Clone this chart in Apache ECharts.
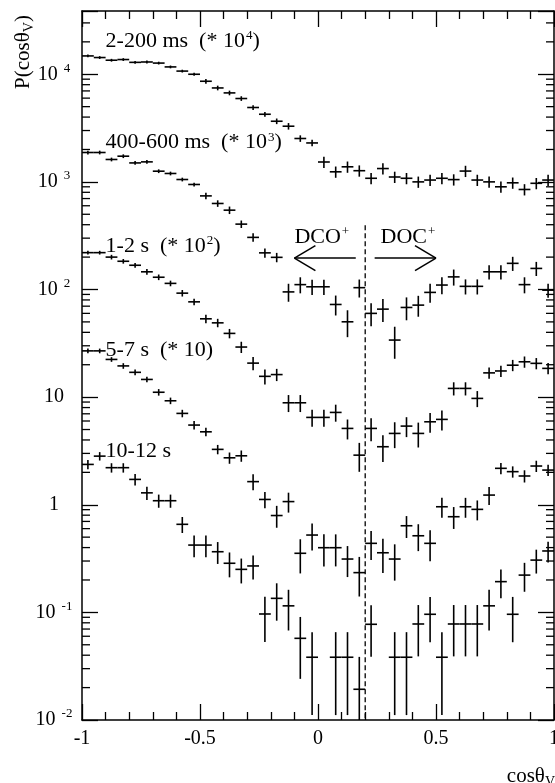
<!DOCTYPE html>
<html>
<head>
<meta charset="utf-8">
<script src="https://cdn.jsdelivr.net/npm/echarts@6/dist/echarts.min.js"></script>
<style>
  html, body { margin: 0; padding: 0; background: #fff; }
  #chart { width: 555px; height: 783px; }
</style>
</head>
<body>
<div id="chart"></div>
<script>
// Bin centres in cos(theta_V), bin width 0.05
const cosBins = [-0.975,-0.925,-0.875,-0.825,-0.775,-0.725,-0.675,-0.625,-0.575,-0.525,
  -0.475,-0.425,-0.375,-0.325,-0.275,-0.225,-0.175,-0.125,-0.075,-0.025,
  0.025,0.075,0.125,0.175,0.225,0.275,0.325,0.375,0.425,0.475,
  0.525,0.575,0.625,0.675,0.725,0.775,0.825,0.875,0.925,0.975];
const binHalfWidth = 0.025;

// P(cos theta_V) per time window (unscaled) and relative errors
const p2to200ms = [1.48,1.43,1.35,1.37,1.29,1.30,1.27,1.17,1.07,1.00,
  0.861,0.746,0.671,0.595,0.491,0.425,0.366,0.329,0.253,0.230,
  0.153,0.124,0.138,0.127,0.108,0.133,0.111,0.108,0.100,0.104,
  0.108,0.105,0.126,0.104,0.100,0.090,0.098,0.085,0.097,0.104];
const rel2to200ms = [0.03,0.03,0.03,0.03,0.03,0.03,0.03,0.03,0.03,0.03,
  0.05,0.05,0.05,0.05,0.05,0.05,0.06,0.07,0.07,0.07,
  0.12,0.12,0.12,0.12,0.12,0.12,0.12,0.12,0.12,0.12,
  0.12,0.12,0.12,0.12,0.12,0.12,0.12,0.12,0.12,0.12];

const p400to600ms = [1.875,1.875,1.615,1.733,1.500,1.534,1.257,1.197,1.052,0.946,
  0.741,0.630,0.546,0.405,0.305,0.219,0.199,0.095,0.111,0.106,
  0.106,0.0726,0.0501,0.104,0.060,0.0657,0.0339,0.0681,0.0716,0.094,
  0.110,0.131,0.107,0.107,0.146,0.146,0.175,0.111,0.157,0.0986];
const rel400to600ms = [0.04,0.04,0.04,0.04,0.04,0.04,0.04,0.04,0.04,0.04,
  0.07,0.07,0.08,0.08,0.09,0.10,0.10,0.19,0.17,0.16,
  0.16,0.21,0.28,0.19,0.24,0.24,0.33,0.24,0.22,0.20,
  0.18,0.17,0.16,0.16,0.15,0.15,0.15,0.17,0.15,0.15];

const p1to2s = [2.20,2.20,2.00,1.83,1.68,1.46,1.30,1.14,0.925,0.768,
  0.534,0.490,0.391,0.292,0.207,0.156,0.162,0.0886,0.0886,0.0648,
  0.0648,0.0721,0.0512,0.0289,0.0512,0.0346,0.0460,0.0538,0.0460,0.0590,
  0.0621,0.1205,0.1205,0.0973,0.168,0.175,0.198,0.213,0.206,0.185];
const rel1to2s = [0.04,0.04,0.05,0.05,0.05,0.06,0.06,0.06,0.07,0.07,
  0.09,0.09,0.10,0.12,0.14,0.16,0.13,0.18,0.18,0.18,
  0.18,0.18,0.21,0.30,0.24,0.28,0.27,0.21,0.26,0.21,
  0.21,0.14,0.14,0.17,0.12,0.12,0.12,0.12,0.12,0.12];

const p5to7s = [2.69,2.69,2.24,1.95,1.70,1.46,1.11,0.925,0.706,0.550,
  0.476,0.327,0.273,0.285,0.164,0.112,0.0794,0.107,0.0354,0.0523,
  0.0399,0.0399,0.0313,0.0234,0.0438,0.0358,0.0313,0.0638,0.0515,0.0438,
  0.0958,0.0774,0.0958,0.0906,0.123,0.218,0.203,0.185,0.229,0.210];
const rel5to7s = [0.05,0.05,0.05,0.06,0.06,0.06,0.07,0.07,0.08,0.09,
  0.09,0.10,0.12,0.12,0.17,0.17,0.23,0.21,0.35,0.28,
  0.33,0.33,0.32,0.40,0.30,0.35,0.37,0.23,0.28,0.32,
  0.21,0.23,0.21,0.21,0.19,0.12,0.12,0.13,0.12,0.12];

const p10to12s = [2.37,2.83,2.21,2.21,1.72,1.29,1.09,1.09,0.658,0.422,
  0.422,0.366,0.286,0.251,0.270,0.0966,0.135,0.115,0.0574,0.0383,
  null,0.0383,0.0383,0.0193,0.0775,null,0.0383,0.0383,0.078,0.096,
  0.0383,0.078,0.078,0.078,0.115,0.193,0.096,0.222,0.306,0.372];
const rel10to12s = [0.10,0.09,0.10,0.10,0.12,0.14,0.14,0.14,0.17,0.23,
  0.23,0.23,0.26,0.26,0.25,0.45,0.38,0.41,0.58,0.71,
  null,0.71,0.71,1.00,0.50,null,0.71,0.71,0.50,0.45,
  0.71,0.50,0.50,0.50,0.41,0.30,0.45,0.30,0.25,0.22];

const windowNames = ['2-200 ms', '400-600 ms', '1-2 s', '5-7 s', '10-12 s'];
const windowScaleExp = [4, 3, 2, 1, 0];
const windowValues = [p2to200ms, p400to600ms, p1to2s, p5to7s, p10to12s];
const windowRelErr = [rel2to200ms, rel400to600ms, rel1to2s, rel5to7s, rel10to12s];

// Axis ranges
const xMin = -1, xMax = 1, xStep = 0.5;
const yMin = 0.01, yMax = 38700;

// Annotation anchors (data space)
const labelAnchorCos = -0.9;
const labelAnchorP = [20370, 2312, 254, 27.3, 3.15];
const splitCos = 0.2;
const splitTopP = 396;
const arrowP = 196;
const arrows = [[0.16, -0.1], [0.24, 0.5]];
const regionLabels = ['DCO{sup|+}', 'DOC{sup|+}'];
const regionLabelCos = [-0.1, 0.265];
const regionLabelP = 308;

const FONT = '"Liberation Serif", "Times New Roman", serif';
const INK = '#000';

const supRich = { sup: { fontSize: 13, fontFamily: FONT, color: INK, padding: [0, 0, 10, 1] } };

function crossItem(params, api) {
  const x = api.value(0), v = api.value(1), r = api.value(2);
  const c = api.coord([x, v]);
  const l = api.coord([x - binHalfWidth, v]);
  const rt = api.coord([x + binHalfWidth, v]);
  const hi = api.coord([x, v * (1 + r)]);
  const lo = api.coord([x, Math.max(v * (1 - r), yMin * 0.3)]);
  const st = { stroke: INK, lineWidth: 1.6 };
  return {
    type: 'group',
    children: [
      { type: 'line', shape: { x1: l[0], y1: c[1], x2: rt[0], y2: c[1] }, style: st },
      { type: 'line', shape: { x1: c[0], y1: hi[1], x2: c[0], y2: lo[1] }, style: st }
    ]
  };
}

const series = windowValues.map((vals, k) => {
  const f = Math.pow(10, windowScaleExp[k]);
  const data = [];
  vals.forEach((v, i) => {
    if (v != null) data.push([cosBins[i], v * f, windowRelErr[k][i]]);
  });
  return {
    type: 'custom',
    name: windowNames[k],
    coordinateSystem: 'cartesian2d',
    dimensions: ['cos', 'P', 'rel'],
    encode: { x: 0, y: 1 },
    clip: true,
    silent: true,
    renderItem: crossItem,
    data: data,
    z: 5
  };
});

// Minor log ticks (2..9 per decade) on left and right frame
const minorTickValues = [];
for (let e = -2; e <= 4; e++) {
  for (let m = 2; m <= 9; m++) {
    const v = m * Math.pow(10, e);
    if (v < yMax) minorTickValues.push(v);
  }
}
series.push({
  type: 'custom',
  coordinateSystem: 'cartesian2d',
  silent: true,
  encode: { x: 0, y: 1 },
  data: minorTickValues.map(v => [xMin, v]),
  renderItem: (params, api) => {
    const v = api.value(1);
    const a = api.coord([xMin, v]);
    const b = api.coord([xMax, v]);
    const st = { stroke: INK, lineWidth: 1.3 };
    return {
      type: 'group',
      children: [
        { type: 'line', shape: { x1: a[0], y1: a[1], x2: a[0] + 8, y2: a[1] }, style: st },
        { type: 'line', shape: { x1: b[0], y1: b[1], x2: b[0] - 8, y2: b[1] }, style: st }
      ]
    };
  },
  z: 3
});

// Dashed divider at cos = 0.2
series.push({
  type: 'custom',
  coordinateSystem: 'cartesian2d',
  silent: true,
  encode: { x: 0, y: 1 },
  data: [[splitCos, splitTopP]],
  renderItem: (params, api) => {
    const t = api.coord([api.value(0), api.value(1)]);
    const b = api.coord([api.value(0), yMin]);
    return {
      type: 'line',
      shape: { x1: t[0], y1: t[1], x2: b[0], y2: b[1] },
      style: { stroke: INK, lineWidth: 1.3, lineDash: [5, 3] }
    };
  },
  z: 4
});

// Direction arrows with open heads
series.push({
  type: 'custom',
  coordinateSystem: 'cartesian2d',
  silent: true,
  encode: { x: 0, y: 2 },
  data: arrows.map(a => [a[0], a[1], arrowP]),
  renderItem: (params, api) => {
    const s = api.coord([api.value(0), api.value(2)]);
    const t = api.coord([api.value(1), api.value(2)]);
    const dir = t[0] > s[0] ? 1 : -1;
    const st = { stroke: INK, lineWidth: 1.5 };
    return {
      type: 'group',
      children: [
        { type: 'line', shape: { x1: s[0], y1: s[1], x2: t[0], y2: t[1] }, style: st },
        { type: 'line', shape: { x1: t[0], y1: t[1], x2: t[0] - dir * 21, y2: t[1] - 12.5 }, style: st },
        { type: 'line', shape: { x1: t[0], y1: t[1], x2: t[0] - dir * 21, y2: t[1] + 12.5 }, style: st }
      ]
    };
  },
  z: 4
});

// Text annotations: time windows and region names
const textItems = [];
windowNames.forEach((n, k) => {
  const e = windowScaleExp[k];
  let txt = n;
  if (e > 1) txt += '  (* 10{sup|' + e + '})';
  else if (e === 1) txt += '  (* 10)';
  textItems.push([labelAnchorCos, labelAnchorP[k], txt]);
});
regionLabels.forEach((t, i) => textItems.push([regionLabelCos[i], regionLabelP, t]));

series.push({
  type: 'custom',
  coordinateSystem: 'cartesian2d',
  silent: true,
  encode: { x: 0, y: 1 },
  dimensions: ['cos', 'P', { name: 'text', type: 'ordinal' }],
  data: textItems,
  renderItem: (params, api) => {
    const item = textItems[params.dataIndex];
    const p = api.coord([item[0], item[1]]);
    return {
      type: 'text',
      x: p[0],
      y: p[1],
      style: {
        text: item[2],
        fill: INK,
        font: '22px ' + FONT,
        align: 'left',
        verticalAlign: 'middle',
        rich: supRich
      }
    };
  },
  z: 6
});

function logLabel(v) {
  const e = Math.round(Math.log10(v));
  if (Math.abs(v / Math.pow(10, e) - 1) > 1e-6) return '';
  if (e === 0) return '1';
  if (e === 1) return '10';
  return '10{sup|' + e + '}';
}

const axisLineStyle = { color: INK, width: 1.5 };

const option = {
  animation: false,
  backgroundColor: '#fff',
  grid: { left: 82, right: 1, top: 11, bottom: 63, containLabel: false, outerBoundsMode: 'none' },
  xAxis: [
    {
      type: 'value', min: xMin, max: xMax, interval: xStep, position: 'bottom',
      axisLine: { show: true, onZero: false, lineStyle: axisLineStyle },
      axisTick: { show: true, inside: true, length: 16, lineStyle: { color: INK, width: 1.3 } },
      minorTick: { show: true, splitNumber: 5, length: 8, lineStyle: { color: INK, width: 1.3 } },
      splitLine: { show: false },
      axisLabel: { color: INK, fontFamily: FONT, fontSize: 20, margin: 9 }
    },
    {
      type: 'value', min: xMin, max: xMax, interval: xStep, position: 'top',
      axisLine: { show: true, onZero: false, lineStyle: axisLineStyle },
      axisTick: { show: true, inside: true, length: 16, lineStyle: { color: INK, width: 1.3 } },
      minorTick: { show: true, splitNumber: 5, length: 8, lineStyle: { color: INK, width: 1.3 } },
      splitLine: { show: false },
      axisLabel: { show: false }
    }
  ],
  yAxis: [
    {
      type: 'log', logBase: 10, min: yMin, max: yMax, interval: 1, position: 'left',
      axisLine: { show: true, onZero: false, lineStyle: axisLineStyle },
      axisTick: { show: true, inside: true, length: 16, lineStyle: { color: INK, width: 1.3 } },
      splitLine: { show: false },
      axisLabel: {
        color: INK, fontFamily: FONT, fontSize: 20, margin: 28, align: 'center',
        formatter: logLabel,
        rich: { sup: { fontSize: 13, fontFamily: FONT, color: INK, padding: [0, 0, 12, 6] } }
      }
    },
    {
      type: 'log', logBase: 10, min: yMin, max: yMax, interval: 1, position: 'right',
      axisLine: { show: true, onZero: false, lineStyle: axisLineStyle },
      axisTick: { show: true, inside: true, length: 16, lineStyle: { color: INK, width: 1.3 } },
      splitLine: { show: false },
      axisLabel: { show: false }
    }
  ],
  graphic: [
    {
      type: 'text', x: 23, y: 52, rotation: Math.PI / 2,
      style: {
        text: 'P(cosθ{sub|V})', fill: INK, font: '21px ' + FONT,
        align: 'center', verticalAlign: 'middle',
        rich: { sub: { fontSize: 14, fontFamily: FONT, color: INK, padding: [12, 0, 0, 0] } }
      }
    },
    {
      type: 'text', x: 555, y: 776,
      style: {
        text: 'cosθ{sub|V}', fill: INK, font: '21px ' + FONT,
        align: 'right', verticalAlign: 'middle',
        rich: { sub: { fontSize: 14, fontFamily: FONT, color: INK, padding: [12, 0, 0, 0] } }
      }
    }
  ],
  series: series
};

const chart = echarts.init(document.getElementById('chart'), null, { renderer: 'canvas' });
chart.setOption(option);
</script>
</body>
</html>
